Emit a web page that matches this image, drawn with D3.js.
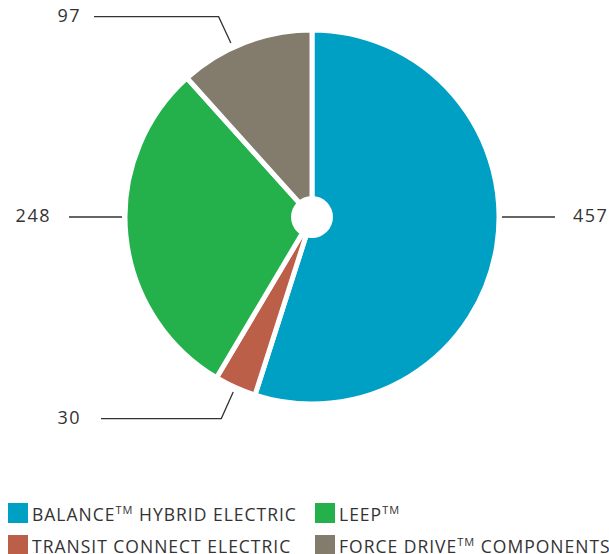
<!DOCTYPE html>
<html><head><meta charset="utf-8">
<script src="https://cdn.jsdelivr.net/npm/d3@7"></script>
<style>body{margin:0;background:#fff}svg{display:block}text{font-family:"Open Sans",sans-serif;fill:#333}</style>
</head><body>
<svg id="c" width="609" height="554"></svg>
<script>
const categories = ["BALANCE|TM| HYBRID ELECTRIC", "TRANSIT CONNECT ELECTRIC", "LEEP|TM|", "FORCE DRIVE|TM| COMPONENTS"];
const values = [457, 30, 248, 97];
const colors = ["#00A0C5", "#BB5F48", "#24B14C", "#837B6C"];
const legendOrder = [0, 2, 1, 3];

const svg = d3.select("#c");
const cx = 312, cy = 217, R = 187;
const g = svg.append("g").attr("transform", `translate(${cx},${cy})`);
const pie = d3.pie().sort(null).value(d => d);
const arcs = pie(values);
const arc = d3.arc().innerRadius(0).outerRadius(R);
g.selectAll("path").data(arcs).join("path")
  .attr("d", arc).attr("fill", (d, i) => colors[i])
  .attr("stroke", "#fff").attr("stroke-width", 5).attr("stroke-linejoin", "miter");
g.append("circle").attr("r", 21).attr("fill", "#fff");

// labels
arcs.forEach((d, i) => {
  const mid = (d.startAngle + d.endAngle) / 2;
  const deg = mid * 180 / Math.PI;
  const left = Math.sin(mid) < 0;
  const sx = left ? -1 : 1;
  let pts, tx, ty;
  if (Math.abs(deg - 90) < 20 || Math.abs(deg - 270) < 20) {
    pts = [[sx * 190, 0], [sx * 243, 0]];
    tx = sx * 261; ty = 5;
  } else {
    const a = mid - (Math.abs(deg-339) < 20 ? 0.07 : 0);
    const p1 = [Math.sin(a) * 192, -Math.cos(a) * 192];
    const p2 = [Math.sin(a) * 221, -Math.cos(a) * 221];
    const hy = p2[1];
    pts = [p1, p2, [-211 + (hy > 0 ? 0 : -7), hy]];
    tx = -231; ty = hy + 5;
  }
  g.append("path").attr("d", d3.line()(pts)).attr("fill", "none")
    .attr("stroke", "#333").attr("stroke-width", 1.3);
  g.append("text").attr("x", tx).attr("y", ty)
    .attr("text-anchor", left ? "end" : "start")
    .attr("font-size", 18).attr("letter-spacing", 1.5).text(values[i]);
});

// legend
const lg = svg.append("g");
legendOrder.forEach((ci, k) => {
  const col = k % 2, row = Math.floor(k / 2);
  const x = 8 + col * 307, y = 503 + row * 32;
  lg.append("rect").attr("x", x).attr("y", y).attr("width", 20).attr("height", 20).attr("fill", colors[ci]);
  const t = lg.append("text").attr("x", x + 24).attr("y", y + 18)
    .attr("font-size", 17.5).attr("letter-spacing", 1.0).attr("fill", "#444");
  let shift = 0;
  categories[ci].split("|").forEach((part, j) => {
    if (!part) return;
    if (part === "TM") {
      t.append("tspan").attr("font-size", 11).attr("dy", -7).text("TM");
      shift = 7;
    } else {
      t.append("tspan").attr("dy", shift).text(part);
      shift = 0;
    }
  });
});
</script>
</body></html>
